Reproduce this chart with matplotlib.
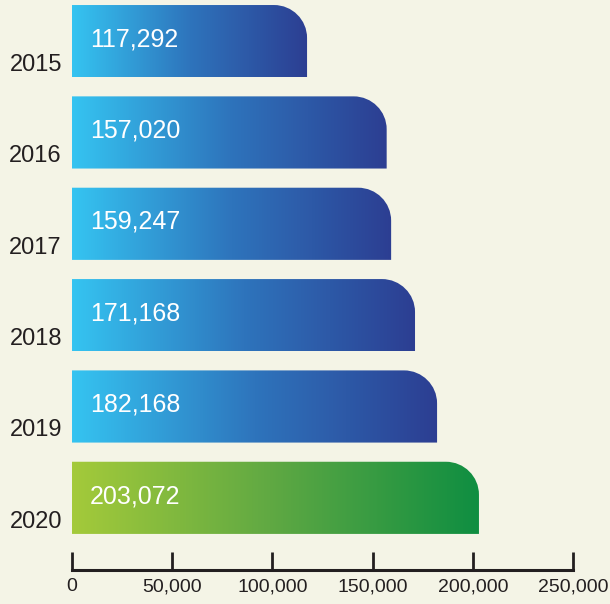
import numpy as np
import matplotlib
matplotlib.use("Agg")
import matplotlib.pyplot as plt
from matplotlib.path import Path
from matplotlib.patches import PathPatch
from matplotlib.colors import LinearSegmentedColormap

years = ["2015", "2016", "2017", "2018", "2019", "2020"]
values = [117292, 157020, 159247, 171168, 182168, 203072]
xticks = [0, 50000, 100000, 150000, 200000, 250000]

bg = "#f4f4e6"
blue_cmap = LinearSegmentedColormap.from_list("blue", ["#35c4f1", "#2e74bc", "#2c3e92"])
green_cmap = LinearSegmentedColormap.from_list("green", ["#a4ca3a", "#5ea843", "#0f8e41"])

plt.rcParams['font.family'] = ['Liberation Sans', 'DejaVu Sans']

fig = plt.figure(figsize=(6.10, 6.04), dpi=100, facecolor=bg)
ax = fig.add_axes([72 / 610, 34 / 604, 501 / 610, 570 / 604])
ax.set_facecolor(bg)

h = 0.79
rx = 16500
ry = 0.36
k = 0.5523
grad = np.linspace(0, 1, 256).reshape(1, -1)

for i, (yr, v) in enumerate(zip(years, values)):
    top = i - h / 2
    bot = i + h / 2
    verts = [(0, bot), (v, bot), (v, top + ry),
             (v, top + ry - k * ry), (v - rx + k * rx, top), (v - rx, top),
             (0, top), (0, bot)]
    codes = [Path.MOVETO, Path.LINETO, Path.LINETO,
             Path.CURVE4, Path.CURVE4, Path.CURVE4,
             Path.LINETO, Path.CLOSEPOLY]
    patch = PathPatch(Path(verts, codes), facecolor="none", edgecolor="none")
    ax.add_patch(patch)
    cmap = green_cmap if yr == "2020" else blue_cmap
    im = ax.imshow(grad, cmap=cmap, extent=(0, v, bot, top), aspect="auto",
                   interpolation="bilinear", zorder=2)
    im.set_clip_path(patch)
    ax.text(9000, i - 0.02, f"{v:,}", color="white", fontsize=18,
            va="center", ha="left", zorder=3)
    ax.text(-5000, i + 0.26, yr, color="#231f20", fontsize=17,
            va="center", ha="right", clip_on=False)

ax.set_xlim(0, 250000)
ax.set_ylim(5.79, -0.45)
ax.set_xticks(xticks)
ax.set_xticklabels([f"{t:,}" for t in xticks], fontsize=14, color="#231f20")
ax.set_yticks([])
for s in ["top", "right", "left"]:
    ax.spines[s].set_visible(False)
ax.spines["bottom"].set_linewidth(2.2)
ax.spines["bottom"].set_color("#231f20")
ax.tick_params(axis="x", direction="in", length=13, width=2, color="#231f20", pad=6)

fig.savefig("out.png", dpi=100, facecolor=bg)
